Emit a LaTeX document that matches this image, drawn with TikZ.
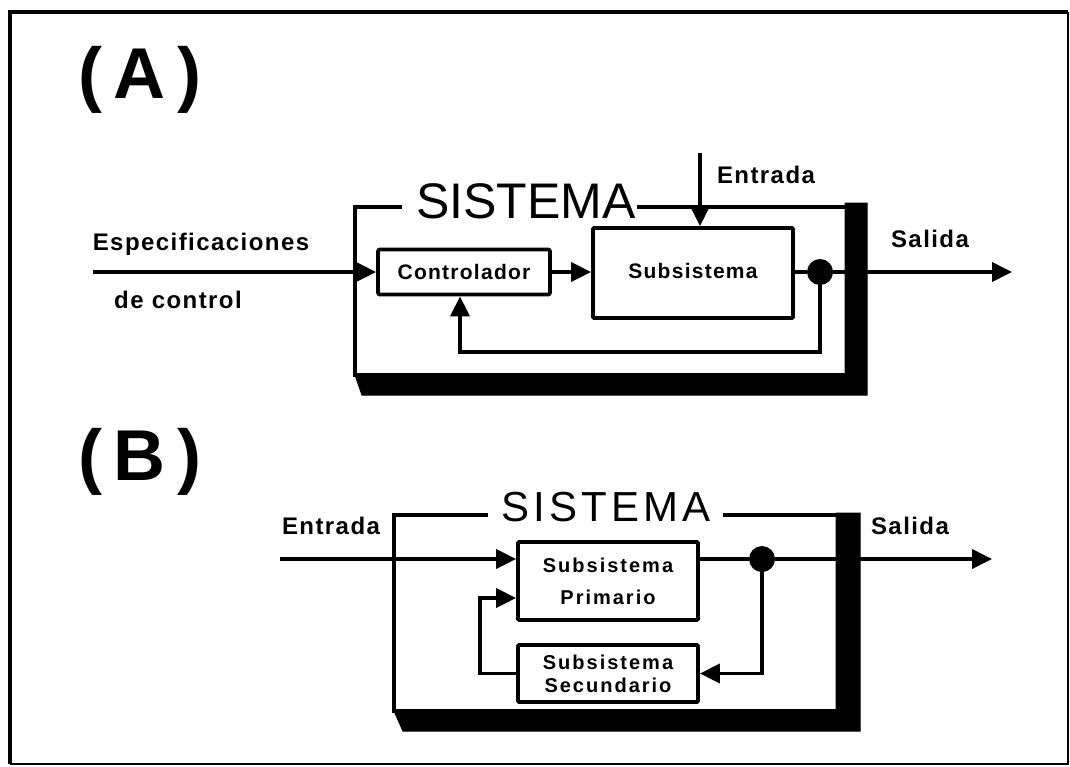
\documentclass[tikz,border=0pt]{standalone}
\usepackage{fontspec}
\setmainfont{Liberation Sans}
\newfontfamily\lblfont[LetterSpace=6]{Liberation Sans}
\newfontfamily\boxfont[LetterSpace=10]{Liberation Sans}
\newfontfamily\sysfont[LetterSpace=10]{Liberation Sans}
\usetikzlibrary{arrows.meta,calc}
\begin{document}
\begin{tikzpicture}[x=1pt,y=-1pt,
  ln/.style={line width=3.8pt},
  arr/.style={line width=3.8pt,-{Triangle[length=20pt,width=19pt]}},
  blk/.style={draw,line width=3.8pt,rounded corners=2pt,inner sep=0pt},
  lbl/.style={inner sep=0pt,font=\lblfont\bfseries\fontsize{24}{26}\selectfont},
  dot/.style={circle,fill=black,inner sep=0pt,minimum size=26pt},
  big/.style={inner sep=0pt,font=\bfseries\fontsize{72}{76}\selectfont},
  shadow/.style={fill=black,draw=black,line width=1pt}
]
\useasboundingbox (0,0) rectangle (1070,766);
% outer frame
\draw[line width=4pt] (10,764) -- (10,12) -- (1068,12);
\draw[line width=1.5pt] (1068,12) -- (1068,764) -- (10,764);

% ---------- (A) ----------
\node[big] (labA) at (140,80) {(\,A\,)};

% system box A
\fill[shadow] (845,203) -- (867,203) -- (867,395) -- (362,395) -- (355,375) -- (845,375) -- cycle;
\draw[ln] (402,207) -- (355,207) -- (355,375) -- (847,375);
\draw[ln] (637,207) -- (847,207);
\node[inner sep=0pt,font=\fontsize{50}{52}\selectfont] (sysA) at (526,201) {SISTEMA};

\node[blk,minimum width=172pt,minimum height=45pt,font=\lblfont\bfseries\fontsize{21}{24}\selectfont] (ctrl) at (464,272) {Controlador};
\node[blk,rounded corners=1pt,minimum width=200pt,minimum height=90pt,font=\lblfont\bfseries\fontsize{21}{24}\selectfont] (subA) at (693,273) {\raisebox{4pt}{Subsistema}};
\node[dot] (cA) at (820,272) {};

\node[lbl] (espec) at (201,244) {Especificaciones};
\node[lbl] (decon) at (178,300) {de control};
\node[lbl] (entA) at (766,175) {Entrada};
\node[lbl] (salA) at (930,239) {Salida};

\coordinate (specA) at (93,272);
\coordinate (inA) at (700,153);
\coordinate (outA) at (1012,272);
\coordinate (fbA) at (460,352);

\draw[arr] (specA) -- (ctrl.west);
\draw[arr] (ctrl.east) -- (subA.west |- ctrl.east);
\draw[arr] (inA) -- (inA |- subA.north);
\draw[ln] (subA.east |- cA) -- (cA);
\draw[arr] (cA) -- (outA);
\draw[arr] (cA.center) -- (cA.center |- fbA) -- (fbA) -- (fbA |- ctrl.south);

% ---------- (B) ----------
\node[big] (labB) at (140,462) {(\,B\,)};

\fill[shadow] (836,513) -- (860,513) -- (860,731) -- (403,731) -- (394,711) -- (836,711) -- cycle;
\draw[ln] (488,515) -- (394,515) -- (394,711) -- (838,711);
\draw[ln] (723,515) -- (838,515);
\node[inner sep=0pt,font=\sysfont\fontsize{42}{44}\selectfont] (sysB) at (606,507) {SISTEMA};

\node[blk,rounded corners=1pt,minimum width=180pt,minimum height=78pt,align=center,font=\boxfont\bfseries\fontsize{20}{32}\selectfont] (prim) at (608,581) {Subsistema\\Primario};
\node[blk,rounded corners=1pt,minimum width=180pt,minimum height=57pt,align=center,font=\boxfont\bfseries\fontsize{20}{23}\selectfont] (sec) at (608,673.5) {Subsistema\\Secundario};
\node[dot] (cB) at (762,559) {};

\node[lbl] (entB) at (331,526) {Entrada};
\node[lbl] (salB) at (910,526) {Salida};

\coordinate (inB) at (280,559);
\coordinate (outB) at (992,559);

\draw[arr] (inB) -- (prim.west |- inB);
\draw[ln] (prim.east |- cB) -- (cB);
\draw[arr] (cB) -- (outB);
\draw[arr] (cB.center) |- (sec.east);
\draw[arr] (sec.west) -- ++(-36,0) |- ($(prim.west)+(0,17)$);
\end{tikzpicture}
\end{document}
